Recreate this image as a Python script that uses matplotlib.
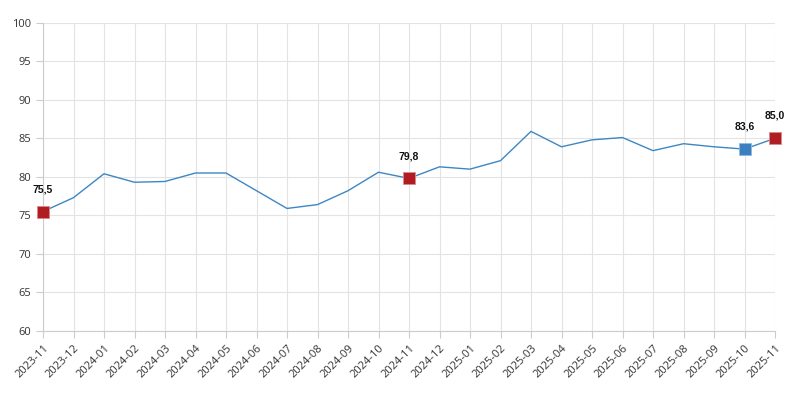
import matplotlib
matplotlib.use("Agg")
import matplotlib.pyplot as plt

months = ['2023-11', '2023-12', '2024-01', '2024-02', '2024-03', '2024-04',
          '2024-05', '2024-06', '2024-07', '2024-08', '2024-09', '2024-10',
          '2024-11', '2024-12', '2025-01', '2025-02', '2025-03', '2025-04',
          '2025-05', '2025-06', '2025-07', '2025-08', '2025-09', '2025-10',
          '2025-11']
values = [75.5, 77.3, 80.4, 79.3, 79.4, 80.5, 80.5, 78.2, 75.9, 76.4, 78.2,
          80.6, 79.8, 81.3, 81.0, 82.1, 85.9, 83.9, 84.8, 85.1, 83.4, 84.3,
          83.9, 83.6, 85.0]
# highlighted points
red_idx = [0, 12, 24]
blue_idx = [23]

plt.rcParams['font.family'] = ['Open Sans', 'DejaVu Sans']

fig = plt.figure(figsize=(7.88, 3.93), dpi=100)
ax = fig.add_axes([43 / 788, 1 - 331 / 393, (775 - 43) / 788, (331 - 22.7) / 393])

x = list(range(len(months)))
ax.plot(x, values, color='#3d87c4', lw=1.0, zorder=3)

for i in red_idx:
    ax.plot(i, values[i], marker='s', ms=8.6, color='#b01c22', mec='#d88a8c', mew=0.6, zorder=4,
            clip_on=False)
for i in blue_idx:
    ax.plot(i, values[i], marker='s', ms=8.6, color='#3a80bf', mec='#8fb9df', mew=0.6, zorder=4,
            clip_on=False)

for i in red_idx + blue_idx:
    ax.annotate(f'{values[i]:.1f}'.replace('.', ','), (i, values[i]), xytext=(0, 12.5),
                textcoords='offset points', ha='center', va='bottom', fontsize=7.5,
                fontweight='bold', family='Liberation Sans', color='#111111')

ax.set_xlim(0, len(months) - 1)
ax.set_ylim(60, 100)
ax.set_yticks(range(60, 101, 5))
ax.set_xticks(x)
ax.set_xticklabels(months, rotation=45, ha='right', rotation_mode='anchor')

ax.grid(True, color='#e3e3e3', lw=0.8)
ax.set_axisbelow(True)
for s in ['top', 'right']:
    ax.spines[s].set_visible(False)
for s in ['left', 'bottom']:
    ax.spines[s].set_color('#cccccc')
    ax.spines[s].set_linewidth(0.8)
ax.tick_params(axis='both', colors='#cccccc', labelcolor='#333333', labelsize=8,
               length=5, width=0.8)

fig.savefig('out.png', dpi=100)
